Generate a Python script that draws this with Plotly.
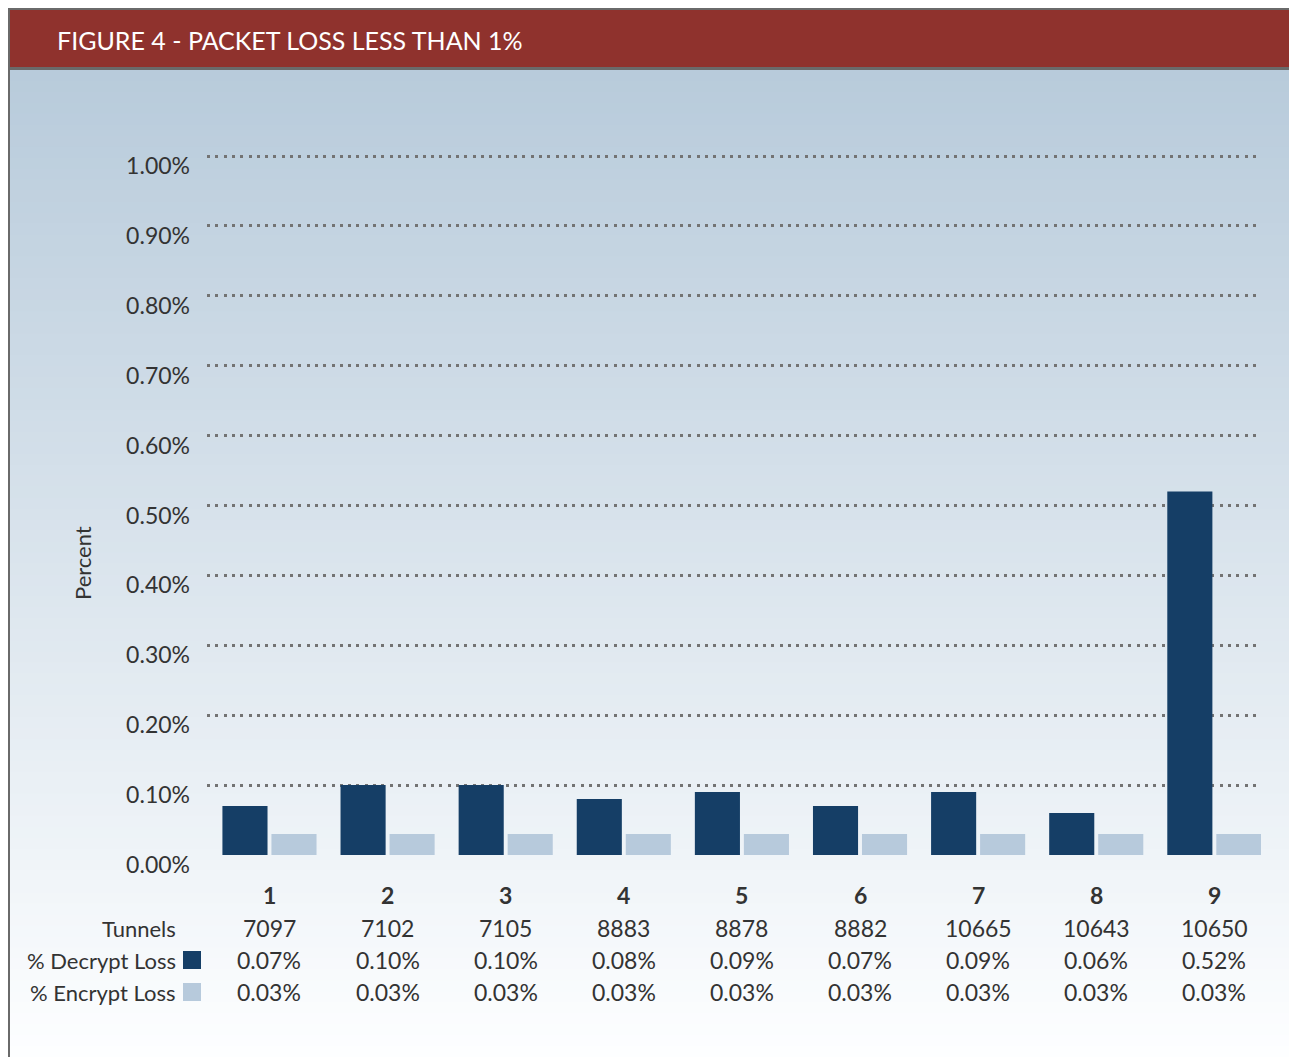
import plotly.graph_objects as go

# ---------------- data ----------------
categories = ["1", "2", "3", "4", "5", "6", "7", "8", "9"]
tunnels = [7097, 7102, 7105, 8883, 8878, 8882, 10665, 10643, 10650]
decrypt_loss = [0.07, 0.10, 0.10, 0.08, 0.09, 0.07, 0.09, 0.06, 0.52]
encrypt_loss = [0.03, 0.03, 0.03, 0.03, 0.03, 0.03, 0.03, 0.03, 0.03]
y_ticks = [0.0, 0.1, 0.2, 0.3, 0.4, 0.5, 0.6, 0.7, 0.8, 0.9, 1.0]
title_text = "FIGURE 4 - PACKET LOSS LESS THAN 1%"
row_labels = ["Tunnels", "% Decrypt Loss", "% Encrypt Loss"]

# ---------------- style ----------------
OFF = 8                      # page body margin in the browser
SW, SH = 1297, 1057          # screen size
W, H = SW - OFF, SH - OFF    # figure size
# plot area in screen pixels
SPL, SPR, SPT, SPB = 207, 1261, 150, 855
PL, PR, PT, PB = SPL - OFF, SPR - OFF, SPT - OFF, SPB - OFF
DARK = "#153e66"
LIGHT = "#b7cadc"
TXT = "#333333"
FONT = "Lato"

def fx(sx):
    return (sx - OFF - PL) / (PR - PL)

def fy(sy):
    return (PB - (sy - OFF)) / (PB - PT)

x_idx = list(range(len(categories)))

fig = go.Figure()
fig.add_trace(go.Bar(x=x_idx, y=decrypt_loss, name="% Decrypt Loss",
                     marker=dict(color=DARK, line=dict(width=0))))
fig.add_trace(go.Bar(x=x_idx, y=encrypt_loss, name="% Encrypt Loss",
                     marker=dict(color=LIGHT, line=dict(width=0))))

shapes = []
# background gradient
top_c = (184, 203, 219)
bot_c = (253, 254, 255)
N = 90
y0p, y1p = 70, SH
for i in range(N):
    a = y0p + (y1p - y0p) * i / N
    b = y0p + (y1p - y0p) * (i + 1) / N + 1
    t = i / (N - 1)
    c = tuple(round(top_c[k] + (bot_c[k] - top_c[k]) * t) for k in range(3))
    shapes.append(dict(type="rect", xref="paper", yref="paper", layer="below",
                       x0=fx(0), x1=fx(SW + 2), y0=fy(a), y1=fy(b),
                       fillcolor="rgb(%d,%d,%d)" % c, line=dict(width=0)))
# header band with border
shapes.append(dict(type="rect", xref="paper", yref="paper", layer="below",
                   x0=fx(OFF - 1), x1=fx(SW + 2), y0=fy(OFF - 1), y1=fy(70),
                   fillcolor="#6a6a6a", line=dict(width=0)))
shapes.append(dict(type="rect", xref="paper", yref="paper", layer="below",
                   x0=fx(OFF + 2), x1=fx(SW + 2), y0=fy(OFF + 2), y1=fy(67),
                   fillcolor="#8f322d", line=dict(width=0)))
# left border
shapes.append(dict(type="rect", xref="paper", yref="paper", layer="below",
                   x0=fx(OFF - 1), x1=fx(OFF + 2), y0=fy(OFF - 1), y1=fy(SH + 2),
                   fillcolor="#6a6a6a", line=dict(width=0)))

annotations = []
annotations.append(dict(text=title_text, xref="paper", yref="paper",
                        x=fx(55), y=fy(40), xanchor="left", yanchor="middle",
                        showarrow=False, font=dict(family=FONT, size=25, color="white")))
annotations.append(dict(text="Percent", xref="paper", yref="paper",
                        x=fx(82), y=fy(563), xanchor="center", yanchor="middle",
                        textangle=-90, showarrow=False,
                        font=dict(family=FONT, size=22, color=TXT)))

row_y = [928, 960, 992]
for lbl, py in zip(row_labels, row_y):
    annotations.append(dict(text=lbl, xref="paper", yref="paper", x=fx(178), y=fy(py),
                            xanchor="right", yanchor="middle", showarrow=False,
                            font=dict(family=FONT, size=22, color=TXT)))
# legend swatches
for col, py in zip([DARK, LIGHT], row_y[1:]):
    shapes.append(dict(type="rect", xref="paper", yref="paper",
                       x0=fx(183), x1=fx(201), y0=fy(py - 9), y1=fy(py + 9),
                       fillcolor=col, line=dict(width=0)))

for i, cat in enumerate(categories):
    annotations.append(dict(text="<b>%s</b>" % cat, xref="x", yref="paper", x=x_idx[i], y=fy(895),
                            showarrow=False, yanchor="middle",
                            font=dict(family=FONT, size=23, color=TXT)))
    annotations.append(dict(text=str(tunnels[i]), xref="x", yref="paper", x=x_idx[i], y=fy(row_y[0]),
                            showarrow=False, yanchor="middle",
                            font=dict(family=FONT, size=23, color=TXT)))
    annotations.append(dict(text="%.2f%%" % decrypt_loss[i], xref="x", yref="paper", x=x_idx[i], y=fy(row_y[1]),
                            showarrow=False, yanchor="middle",
                            font=dict(family=FONT, size=23, color=TXT)))
    annotations.append(dict(text="%.2f%%" % encrypt_loss[i], xref="x", yref="paper", x=x_idx[i], y=fy(row_y[2]),
                            showarrow=False, yanchor="middle",
                            font=dict(family=FONT, size=23, color=TXT)))

# y range so 1.00 sits at screen pixel 156
ytop = (PB - PT) / (PB - (156 - OFF)) * 1.0

fig.update_layout(
    width=W, height=H,
    margin=dict(l=PL, r=W - PR, t=PT, b=H - PB, pad=0),
    paper_bgcolor="white", plot_bgcolor="rgba(0,0,0,0)",
    showlegend=False,
    barmode="group", bargap=0.17, bargroupgap=0.08,
    shapes=shapes, annotations=annotations,
    xaxis=dict(range=[-0.529, 8.395], showticklabels=False, showgrid=False,
               zeroline=False, showline=False, ticks=""),
    yaxis=dict(range=[0, ytop], tickvals=y_ticks,
               ticktext=["%.2f%%" % v for v in y_ticks],
               showgrid=True, gridcolor="#737373", gridwidth=3, griddash="3px,5.3px",
               zeroline=True, zerolinecolor="rgba(0,0,0,0)",
               showline=False, ticks="", ticklabelshift=10, ticklabelstandoff=16,
               tickfont=dict(family=FONT, size=23, color=TXT)),
    font=dict(family=FONT),
)

fig.write_html("out.html")
